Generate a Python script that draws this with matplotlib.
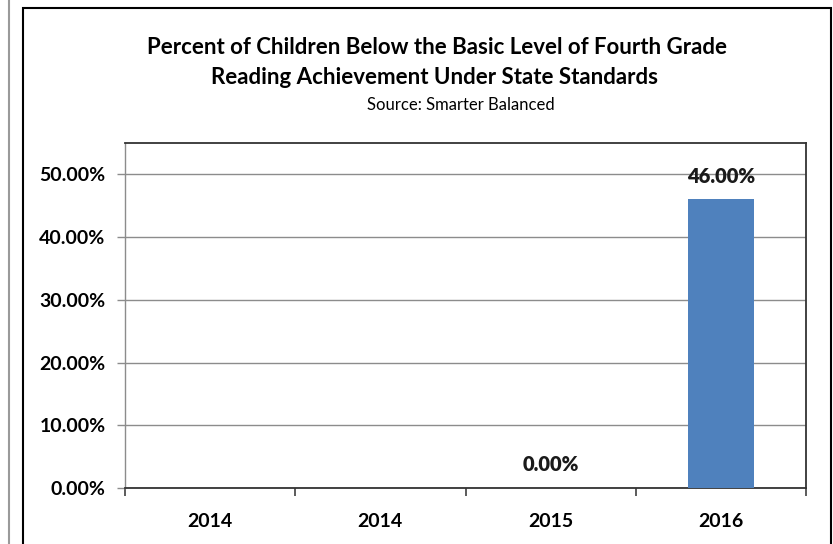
import numpy as np
import matplotlib.pyplot as plt
from matplotlib.patches import Rectangle
from matplotlib.lines import Line2D

# chart data
years = ['2014', '2014', '2015', '2016']
pct_below_basic = [np.nan, np.nan, 0.0, 46.0]
y_ticks = [0, 10, 20, 30, 40, 50]

plt.rcParams['font.family'] = ['Lato', 'DejaVu Sans']

W, H = 833, 544
fig = plt.figure(figsize=(W / 100, H / 100), dpi=100)

# outer frame of the screenshot
fig.add_artist(Line2D([8.5 / W, 8.5 / W], [0, 1], color='#9a9a9a', lw=1.5))
fig.add_artist(Rectangle((22.5 / W, -0.01), (831 - 22.5) / W, (H - 7.5) / H + 0.01,
                         fill=False, ec='black', lw=1.5))

ax = fig.add_axes([125 / W, (H - 488) / H, (806 - 125) / W, (488 - 143) / H])

x = np.arange(len(years))
vals = np.array(pct_below_basic)
ax.bar(x, np.nan_to_num(vals), width=0.39, color='#4F81BD', zorder=3)

# data labels, skip missing years
for xi, v in zip(x, vals):
    if np.isnan(v):
        continue
    ax.text(xi, v + 2.2, f'{v:.2f}%', ha='center', va='bottom',
            fontsize=14.5, fontweight='heavy', color='#1a1a1a', zorder=4)

ax.set_xlim(-0.5, len(years) - 0.5)
ax.set_ylim(0, 55)
ax.set_yticks(y_ticks)
ax.set_yticklabels([f'{t:.2f}%' for t in y_ticks], fontsize=14, fontweight='bold')
ax.yaxis.grid(True, color='#8c8c8c', lw=1.0, zorder=0)

# category labels between boundary ticks
ax.set_xticks(np.arange(len(years) + 1) - 0.5)
ax.set_xticklabels([])
ax.set_xticks(x, minor=True)
ax.set_xticklabels(years, minor=True, fontsize=14, fontweight='bold')
ax.tick_params(axis='x', which='minor', length=0, pad=18)
ax.tick_params(axis='x', which='major', length=6, width=1.2, color='#404040')
ax.tick_params(axis='y', length=6, width=1.0, color='#8c8c8c', pad=8)

for side in ['top', 'right', 'bottom']:
    ax.spines[side].set_color('#333333')
    ax.spines[side].set_linewidth(1.3)
ax.spines['left'].set_color('#8c8c8c')
ax.spines['left'].set_linewidth(1.0)

fig.text(437 / W, 1 - 47 / H, 'Percent of Children Below the Basic Level of Fourth Grade',
         ha='center', va='center', fontsize=16, fontweight='bold')
fig.text(434 / W, 1 - 78 / H, 'Reading Achievement Under State Standards',
         ha='center', va='center', fontsize=16, fontweight='bold')
fig.text(461 / W, 1 - 105 / H, 'Source: Smarter Balanced',
         ha='center', va='center', fontsize=12)

fig.savefig('out.png', dpi=100)
